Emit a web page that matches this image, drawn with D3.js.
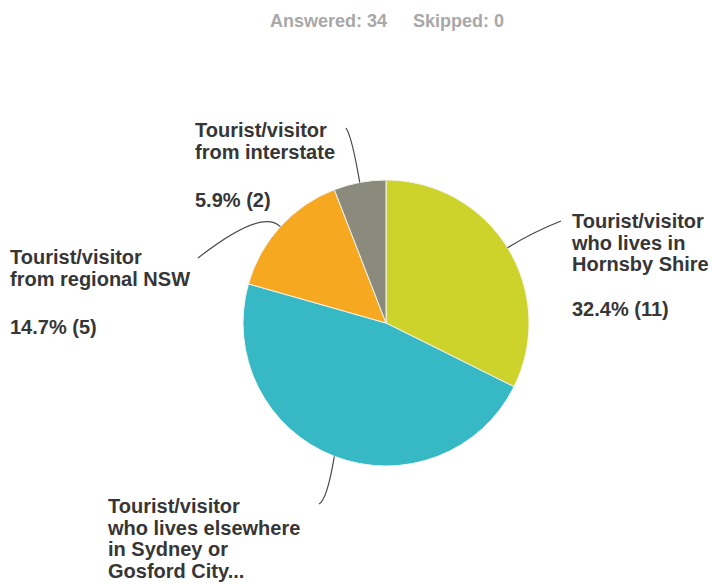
<!DOCTYPE html>
<html>
<head>
<meta charset="utf-8">
<script src="https://cdn.jsdelivr.net/npm/d3@7"></script>
<style>
  html, body { margin: 0; padding: 0; background: #ffffff; }
  svg { display: block; }
</style>
</head>
<body>
<svg id="chart" width="712" height="584"></svg>
<script>
// Survey response counts, in clockwise order from 12 o'clock
const categories = [
  "Tourist/visitor who lives in Hornsby Shire",
  "Tourist/visitor who lives elsewhere in Sydney or Gosford City...",
  "Tourist/visitor from regional NSW",
  "Tourist/visitor from interstate"
];
const counts = [11, 16, 5, 2];
const sliceColors = ["#cdd32b", "#36b9c4", "#f5a820", "#8b8b7d"];

// Wrapped label text for each category
const labelLines = [
  ["Tourist/visitor", "who lives in", "Hornsby Shire"],
  ["Tourist/visitor", "who lives elsewhere", "in Sydney or", "Gosford City..."],
  ["Tourist/visitor", "from regional NSW"],
  ["Tourist/visitor", "from interstate"]
];
const showPercent = [true, false, true, true];

const answered = 34;
const skipped = 0;

// Label placement: text origin, percent baseline, leader elbow and leader end
const labelLayout = [
  { x: 572, y: 228, pctY: 316, elbow: [533, 232], end: [561, 221] },
  { x: 108, y: 513, pctY: null, elbow: [327, 500], end: [319, 504] },
  { x: 10,  y: 264, pctY: 334, elbow: [262, 208], end: [198, 258] },
  { x: 195, y: 137, pctY: 207, elbow: [352, 137], end: [346, 128] }
];

const svg = d3.select("#chart");
const cx = 386, cy = 323, radius = 143;
const total = d3.sum(counts);

// Header
const header = svg.append("g")
  .attr("font-family", "'Liberation Sans', Arial, sans-serif")
  .attr("font-weight", "bold")
  .attr("font-size", 18)
  .attr("fill", "#a8a8a8");
header.append("text").attr("x", 270).attr("y", 27).text(`Answered: ${answered}`);
header.append("text").attr("x", 413).attr("y", 27).text(`Skipped: ${skipped}`);

// Pie
const pie = d3.pie().sort(null).value(d => d)(counts);
const arc = d3.arc().innerRadius(0).outerRadius(radius);

const g = svg.append("g").attr("transform", `translate(${cx},${cy})`);
g.selectAll("path.slice")
  .data(pie)
  .join("path")
  .attr("class", "slice")
  .attr("d", arc)
  .attr("fill", (d, i) => sliceColors[i])
  .attr("stroke", "#f4f4ee")
  .attr("stroke-width", 1);

// Leader lines from slice edges to labels
pie.forEach((d, i) => {
  const mid = (d.startAngle + d.endAngle) / 2;
  const sx = cx + radius * Math.sin(mid);
  const sy = cy - radius * Math.cos(mid);
  const L = labelLayout[i];
  const p = d3.path();
  p.moveTo(sx, sy);
  p.quadraticCurveTo(L.elbow[0], L.elbow[1], L.end[0], L.end[1]);
  svg.append("path")
    .attr("d", p.toString())
    .attr("fill", "none")
    .attr("stroke", "#4a4a4a")
    .attr("stroke-width", 1.2);
});

// Labels
const labels = svg.append("g")
  .attr("font-family", "'Liberation Sans', Arial, sans-serif")
  .attr("font-weight", "bold")
  .attr("font-size", 20)
  .attr("fill", "#363636");

labelLines.forEach((lines, i) => {
  const L = labelLayout[i];
  lines.forEach((line, j) => {
    labels.append("text")
      .attr("x", L.x)
      .attr("y", L.y + j * 21.5)
      .text(line);
  });
  if (showPercent[i]) {
    const pct = (counts[i] / total * 100).toFixed(1);
    labels.append("text")
      .attr("x", L.x)
      .attr("y", L.pctY)
      .text(`${pct}% (${counts[i]})`);
  }
});
</script>
</body>
</html>
